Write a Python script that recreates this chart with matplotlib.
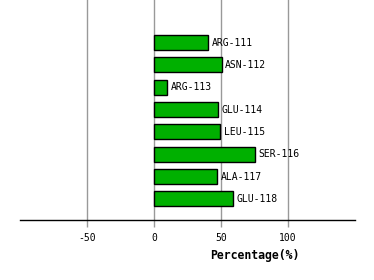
import numpy as np
import matplotlib
matplotlib.use('Agg')
import matplotlib.pyplot as plt

# residues and their percentage values (top to bottom)
residues = ['ARG-111', 'ASN-112', 'ARG-113', 'GLU-114', 'LEU-115', 'SER-116', 'ALA-117', 'GLU-118']
percent = [40.6, 50.7, 9.8, 48.1, 49.6, 75.5, 47.4, 59.4]
xticks = [-50, 0, 50, 100]

plt.rcParams['font.family'] = ['DejaVu Sans Mono']

fig = plt.figure(figsize=(3.74, 2.80), dpi=100)
# axes from x=20..355 px, y=0..220 px
ax = fig.add_axes([20 / 374, 1 - 220.3 / 280, 334.7 / 374, 220.3 / 280])

pos = np.arange(len(residues))
ax.barh(pos, percent, height=0.67, color='#00b000', edgecolor='black', linewidth=1, zorder=3)

for p, v, name in zip(pos, percent, residues):
    ax.text(v + 2.5, p, name, va='center', ha='left', fontsize=7, zorder=4)

ax.set_xlim(-100, 150)
ax.set_ylim(len(residues) - 1 + 0.96, -1.91)

ax.set_xticks(xticks)
ax.set_xticklabels([str(t) for t in xticks], fontsize=7)
ax.tick_params(axis='x', length=5, color='#999999', width=1, pad=4)
ax.set_yticks([])
ax.grid(axis='x', color='#999999', linewidth=1, zorder=0)

for s in ['top', 'left', 'right']:
    ax.spines[s].set_visible(False)
ax.spines['bottom'].set_linewidth(1)

fig.text(255 / 374, 1 - 255 / 280, 'Percentage(%)', ha='center', va='center',
         fontsize=8.3, fontweight='bold')

fig.savefig('out.png', dpi=100)
